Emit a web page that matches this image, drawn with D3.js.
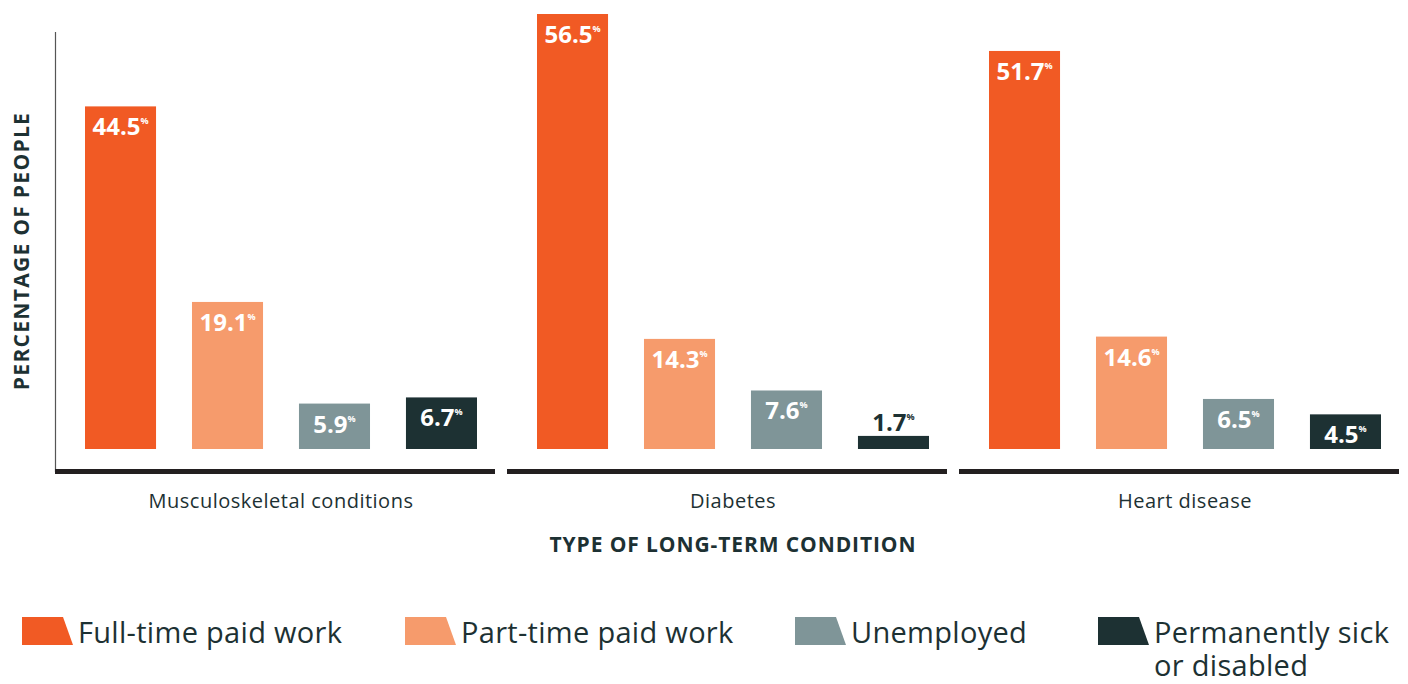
<!DOCTYPE html>
<html><head><meta charset="utf-8">
<script src="https://cdn.jsdelivr.net/npm/d3@7"></script>
<style>body{margin:0;background:#fff}svg{display:block}text{font-family:"Open Sans",sans-serif}</style>
</head><body><svg id="c" width="1408" height="684"></svg>
<script>
const categories = ["Musculoskeletal conditions", "Diabetes", "Heart disease"];
const seriesNames = ["Full-time paid work", "Part-time paid work", "Unemployed", "Permanently sick or disabled"];
const legendLines = [["Full-time paid work"], ["Part-time paid work"], ["Unemployed"], ["Permanently sick", "or disabled"]];
const fullTime = [44.5, 56.5, 51.7];
const partTime = [19.1, 14.3, 14.6];
const unemployed = [5.9, 7.6, 6.5];
const sick = [6.7, 1.7, 4.5];
const colors = ["#F15A24", "#F69B6C", "#7F9598", "#1D3133"];
const xTitle = "TYPE OF LONG-TERM CONDITION";
const yTitle = "PERCENTAGE OF PEOPLE";

const series = [fullTime, partTime, unemployed, sick];
const svg = d3.select("#c");
const baseY = 449;
const y = d3.scaleLinear().domain([0, 56.5]).range([baseY, 14]);
const x0 = d3.scaleBand().domain(categories).range([55, 1411]).padding(0);
const x1 = d3.scaleBand().domain(seriesNames).range([30, 422]).paddingInner(0.336).paddingOuter(0);
const txt = "#1D3133";

svg.append("line").attr("x1", 55.5).attr("x2", 55.5).attr("y1", 32).attr("y2", 472)
  .attr("stroke", "#555").attr("stroke-width", 1.2);
categories.forEach(c => {
  svg.append("rect").attr("x", x0(c)).attr("y", 469).attr("width", x0.bandwidth() - 12).attr("height", 5)
    .attr("fill", "#231F20");
});
categories.forEach((c, ci) => {
  const gg = svg.append("g").attr("transform", `translate(${x0(c)},0)`);
  seriesNames.forEach((s, si) => {
    const v = series[si][ci];
    const bx = x1(s), bw = x1.bandwidth();
    gg.append("rect").attr("x", bx).attr("y", y(v)).attr("width", bw).attr("height", baseY - y(v)).attr("fill", colors[si]);
    const inside = (baseY - y(v)) > 20;
    const t = gg.append("text").attr("x", bx + bw / 2).attr("y", inside ? y(v) + 29 : y(v) - 5)
      .attr("text-anchor", "middle").attr("font-weight", 700).attr("font-size", 24)
      .attr("fill", inside ? "#fff" : txt);
    t.append("tspan").text(v.toFixed(1));
    t.append("tspan").text("%").attr("font-size", 9).attr("dy", -11);
  });
  svg.append("text").attr("x", x0(c) + 226).attr("y", 508).attr("text-anchor", "middle")
    .attr("font-size", 20).attr("letter-spacing", 0.5).attr("fill", txt).text(c);
});
svg.append("text").attr("x", 733).attr("y", 552).attr("text-anchor", "middle").attr("font-weight", 700)
  .attr("font-size", 21).attr("letter-spacing", 0.9).attr("fill", txt).text(xTitle);
svg.append("text").attr("transform", "translate(29,251) rotate(-90)").attr("text-anchor", "middle")
  .attr("font-weight", 700).attr("font-size", 21).attr("letter-spacing", 1.3).attr("fill", txt).text(yTitle);

const legX = [22, 405, 795, 1098];
seriesNames.forEach((s, i) => {
  const lx = legX[i];
  svg.append("path").attr("d", `M${lx},617 L${lx + 41},617 L${lx + 51},645 L${lx},645 Z`).attr("fill", colors[i]);
  legendLines[i].forEach((line, li) => {
    svg.append("text").attr("x", lx + 56).attr("y", 643 + li * 33).attr("font-size", 29)
      .attr("letter-spacing", 0.3).attr("fill", txt).text(line);
  });
});
</script></body></html>
